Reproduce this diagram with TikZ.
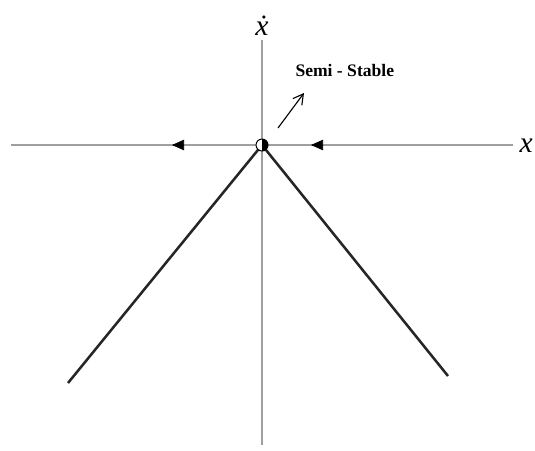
\documentclass[tikz,border=0pt]{standalone}
\usepackage{amsmath}
\usepackage{fontspec}
\setmainfont{Liberation Serif}
\usetikzlibrary{arrows.meta,calc,positioning}

\begin{document}
\begin{tikzpicture}[>=Latex,
  axisline/.style={line width=1.5pt,gray!75},
  branch/.style={line width=1.8pt,black!85},
  flowtip/.style={-{Triangle[length=3mm,width=2.6mm]},black},
  axlabel/.style={font=\fontsize{21}{21}\selectfont\itshape,inner sep=1pt}]
  \useasboundingbox (-6.55,-7.625) rectangle (6.825,3.625);
  % axes
  \coordinate (xl) at (-6.275,0);
  \coordinate (xr) at (6.275,0);
  \coordinate (yb) at (0,-7.5);
  \coordinate (yt) at (0,2.625);
  \coordinate (o) at (0,0);
  \draw[axisline] (xl)--(xr);
  \draw[axisline] (yb)--(yt);
  \node[axlabel,anchor=west] (xlab) at (6.4,-0.02) {x};
  \node[axlabel,anchor=south] (ylab) at (0,2.7) {\.{x}};
  % the two branches of xdot
  \coordinate (bl) at (-4.85,-5.95);
  \coordinate (br) at (4.65,-5.775);
  \draw[branch] (o)--(bl);
  \draw[branch] (o)--(br);
  % flow direction on the x axis
  \coordinate (fl) at (-2.25,0);
  \coordinate (fr) at (1.225,0);
  \draw[flowtip] ($(fl)+(0.02,0)$)--(fl);
  \draw[flowtip] ($(fr)+(0.02,0)$)--(fr);
  % equilibrium point
  \fill[white] (o) circle (0.15);
  \fill[black] (0,-0.15) arc (-90:90:0.15)--cycle;
  \draw[line width=0.7pt] (o) circle (0.15);
  % label
  \node[font=\fontsize{12.5}{12.5}\selectfont\bfseries] (semi) at (2.07,1.86) {Semi - Stable};
  \coordinate (pa) at (0.4,0.425);
  \coordinate (pb) at (1.05,1.3);
  \draw[line width=0.8pt,-{Straight Barb[length=2.5mm,width=2.8mm]}] (pa)--(pb);
\end{tikzpicture}
\end{document}
